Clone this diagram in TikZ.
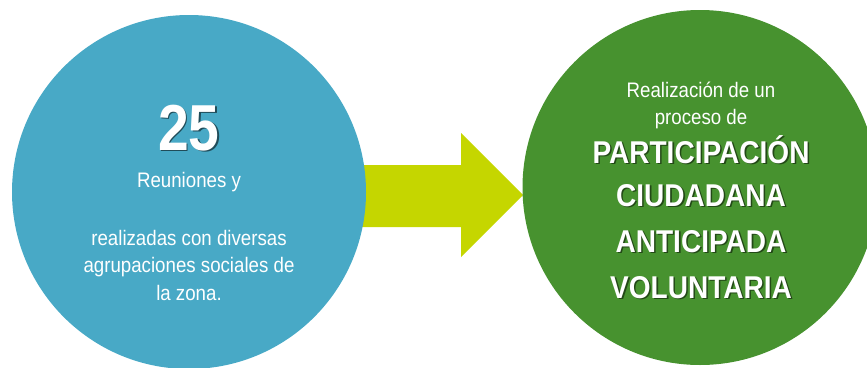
\documentclass[tikz,border=0pt]{standalone}
\usepackage{fontspec}
\setmainfont[FakeStretch=0.89]{Liberation Sans}
\newfontfamily\numfont[FakeStretch=0.85]{Liberation Sans}
\definecolor{cblue}{HTML}{48A9C6}
\definecolor{cgreen}{HTML}{47922F}
\definecolor{carrow}{HTML}{C5D600}
\newcommand\shadowtxt[2]{\makebox[0pt][l]{\hspace{1.6pt}\raisebox{-1.6pt}{\textcolor{#1}{#2}}}#2}
\begin{document}
\begin{tikzpicture}[x=1pt,y=-1pt,
  disc/.style={circle, inner sep=0pt, minimum size=#1},
  plain/.style={text=white, anchor=base, inner sep=0pt, font=\fontsize{21}{27}\selectfont},
  caps/.style={text=white, anchor=base, inner sep=0pt, font=\fontsize{31.5}{45}\selectfont\bfseries},
  bignum/.style={text=white, anchor=base, inner sep=0pt, font=\fontsize{65}{70}\selectfont\numfont\bfseries}]
\useasboundingbox (0,0) rectangle (867,367);
\clip (0,0) rectangle (867,367);
% arrow
\fill[carrow] (340,165) -- (461,165) -- (461,133) -- (523,195) -- (461,257) -- (461,227) -- (340,227) -- cycle;
% circles
\node[disc=354pt, fill=cblue] (blue) at (189,192) {};
\node[disc=355pt, fill=cgreen] (green) at (700,187.5) {};
% left text
\node[bignum] (n25) at (189,150) {\shadowtxt{cblue!45!black}{25}};
\node[plain] (l1) at (189,187) {Reuniones y};
\node[plain] (l2) at (189,245) {realizadas con diversas};
\node[plain] (l3) at (189,272.5) {agrupaciones sociales de};
\node[plain] (l4) at (189,300) {la zona.};
% right text
\node[plain] (r1) at (701,97) {Realización de un};
\node[plain] (r2) at (701,124.5) {proceso de};
\node[caps] (c1) at (701,163) {\shadowtxt{cgreen!50!black}{PARTICIPACIÓN}};
\node[caps] (c2) at (701,206) {\shadowtxt{cgreen!50!black}{CIUDADANA}};
\node[caps] (c3) at (701,252) {\shadowtxt{cgreen!50!black}{ANTICIPADA}};
\node[caps] (c4) at (701,298) {\shadowtxt{cgreen!50!black}{VOLUNTARIA}};
\end{tikzpicture}
\end{document}
